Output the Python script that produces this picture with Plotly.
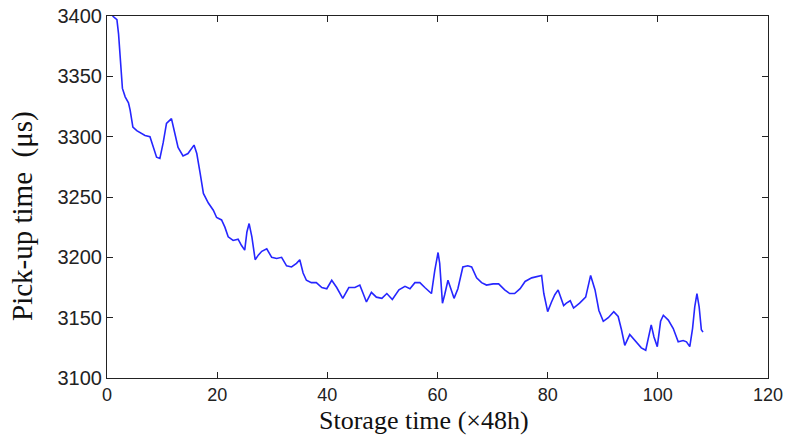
import plotly.graph_objects as go

storage_time = [1.0, 1.8, 2.1, 2.8, 3.3, 3.9, 4.2, 4.7, 5.4, 6.9, 7.8, 8.4, 9.0, 9.6, 10.2, 10.8, 11.7,
                12.3, 12.9, 13.8, 14.7, 15.8, 16.3, 16.9, 17.5, 18.4, 19.3, 19.9, 20.8, 21.4, 22.0,
                22.9, 23.8, 24.4, 25.0, 25.4, 25.8, 26.3, 26.9, 27.5, 28.1, 29.0, 29.9, 30.8, 31.7,
                32.6, 33.5, 34.4, 35.0, 35.6, 36.2, 37.1, 38.0, 39.0, 39.9, 40.8, 41.7, 42.8, 43.9,
                45.0, 45.9, 46.5, 47.1, 48.0, 48.9, 49.9, 50.8, 51.8, 53.0, 54.1, 55.0, 55.9, 56.8,
                57.7, 58.9, 59.5, 60.1, 60.4, 60.9, 61.3, 61.9, 62.5, 63.0, 63.7, 64.6, 65.5, 66.2,
                67.1, 68.0, 68.9, 70.1, 71.1, 72.2, 73.1, 74.0, 75.0, 75.9, 77.1, 78.2, 78.9, 79.3,
                80.0, 80.7, 81.3, 81.9, 82.5, 82.9, 83.4, 84.1, 84.7, 85.8, 86.9, 87.2, 87.8, 88.6,
                89.3, 90.1, 91.0, 92.0, 92.8, 93.4, 94.0, 94.9, 96.1, 97.0, 97.8, 98.4, 98.8, 99.3,
                99.9, 100.5, 101.0, 101.9, 102.8, 103.7, 104.6, 105.2, 105.8, 106.3, 106.7, 107.1,
                107.5, 107.9, 108.2]
pickup_time = [3400, 3397, 3385, 3340, 3333, 3328, 3322, 3308, 3305, 3301, 3300, 3291, 3283, 3282,
               3295, 3311, 3315, 3303, 3291, 3284, 3286, 3293, 3286, 3270, 3253, 3245, 3239, 3233,
               3231, 3225, 3217, 3214, 3215, 3210, 3206, 3221, 3228, 3217, 3198, 3202, 3205, 3207,
               3200, 3199, 3200, 3193, 3192, 3195, 3198, 3187, 3181, 3179, 3179, 3175, 3174, 3181,
               3175, 3166, 3175, 3175, 3177, 3170, 3163, 3171, 3167, 3166, 3170, 3165, 3173, 3176,
               3174, 3179, 3179, 3175, 3170, 3189, 3204, 3195, 3162, 3169, 3181, 3173, 3166, 3174,
               3192, 3193, 3192, 3183, 3179, 3177, 3178, 3178, 3173, 3170, 3170, 3174, 3180, 3183,
               3184, 3185, 3170, 3155, 3163, 3169, 3173, 3165, 3160, 3162, 3164, 3158, 3162, 3167,
               3173, 3185, 3173, 3156, 3147, 3150, 3155, 3151, 3140, 3127, 3136, 3130, 3125, 3123,
               3136, 3144, 3134, 3126, 3147, 3152, 3148, 3141, 3130, 3131, 3130, 3126, 3141, 3159,
               3170, 3159, 3140, 3138]

x_ticks = [0, 20, 40, 60, 80, 100, 120]
y_ticks = [3100, 3150, 3200, 3250, 3300, 3350, 3400]

fig = go.Figure()
fig.add_trace(go.Scatter(x=storage_time, y=pickup_time, mode="lines",
                         line=dict(color="#2626ff", width=1.6), showlegend=False))

axis_common = dict(showline=True, linecolor="#222", linewidth=1, mirror="ticks", automargin=False,
                   ticks="inside", ticklen=6, tickcolor="#222", showgrid=False, zeroline=False)

fig.update_layout(
    width=788, height=439, plot_bgcolor="white", paper_bgcolor="white",
    margin=dict(l=107, r=20, t=16, b=61, pad=0),
    xaxis=dict(range=[0, 120], tickvals=x_ticks, ticktext=[str(v) for v in x_ticks],
               tickfont=dict(family="Liberation Sans, Arial", size=18, color="#222"), **axis_common),
    yaxis=dict(range=[3100, 3400], tickvals=y_ticks, ticktext=[str(v) for v in y_ticks],
               tickfont=dict(family="Liberation Sans, Arial", size=20, color="#222"), **axis_common),
    annotations=[
        dict(text="Storage time (×48h)", xref="paper", yref="paper", x=0.48, y=0,
             xanchor="center", yanchor="middle", yshift=-42, showarrow=False,
             font=dict(family="Liberation Serif, Times New Roman", size=26, color="#111")),
        dict(text="Pick-up time&nbsp;&nbsp;(μs)", xref="paper", yref="paper", x=0, y=0.5,
             xanchor="center", yanchor="middle", xshift=-85, yshift=-19, textangle=-90,
             showarrow=False,
             font=dict(family="Liberation Serif, Times New Roman", size=29, color="#111")),
    ],
)

fig.write_html("out.html")
